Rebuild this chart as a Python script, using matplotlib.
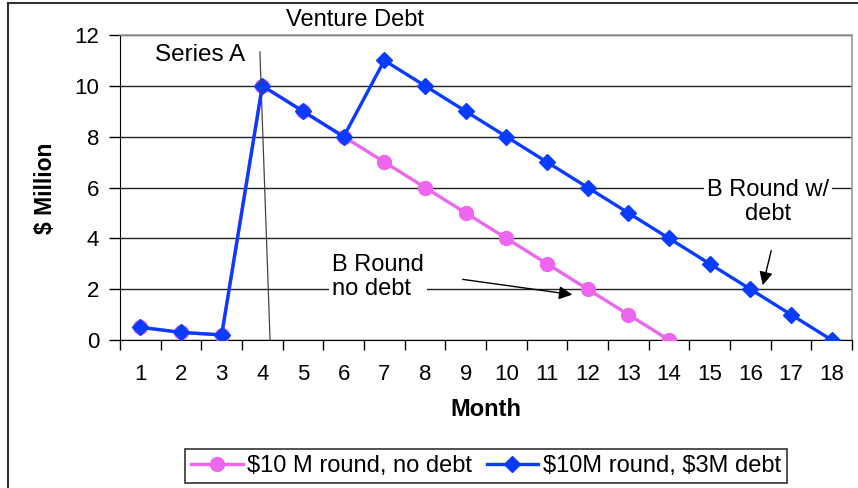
import matplotlib.pyplot as plt
from matplotlib.lines import Line2D

plt.rcParams['font.family'] = ['Liberation Sans', 'DejaVu Sans']

# ---- data ----
months = list(range(1, 19))
no_debt = [0.5, 0.3, 0.2, 10, 9, 8, 7, 6, 5, 4, 3, 2, 1, 0]
with_debt = [0.5, 0.3, 0.2, 10, 9, 8, 11, 10, 9, 8, 7, 6, 5, 4, 3, 2, 1, 0]
yticks = [0, 2, 4, 6, 8, 10, 12]

PINK = "#ee66ee"
BLUE = "#0a3cff"
TXT = 17

fig = plt.figure(figsize=(8.58, 4.88), dpi=100)
ax = fig.add_axes([120 / 858, 1 - 340 / 488, (852 - 120) / 858, (340 - 35) / 488])

ax.plot(months[:len(no_debt)], no_debt, color=PINK, lw=2.4, marker="o", ms=10,
        label=r"\$10 M round, no debt", zorder=3)
ax.plot(months, with_debt, color=BLUE, lw=2.4, marker="D", ms=8,
        label=r"\$10M round, \$3M debt", zorder=4)

ax.set_xlim(0.5, 18.5)
ax.set_ylim(0, 12)
ax.set_yticks(yticks)
ax.set_xticks(months)
ax.set_xticks([m - 0.5 for m in months] + [18.5], minor=True)
ax.tick_params(axis="x", which="major", length=0, pad=17, labelsize=16)
ax.tick_params(axis="x", which="minor", length=7, width=1, direction="out")
ax.tick_params(axis="y", length=8, width=1, pad=7, labelsize=16)

ax.grid(axis="y", color="#222222", lw=1)
ax.set_axisbelow(True)
for s in ["left", "bottom"]:
    ax.spines[s].set_color("black")
for s in ["top", "right"]:
    ax.spines[s].set_color("#999999")
    ax.spines[s].set_linewidth(1.2)

# annotations
ax.text(2.47, 11.2, "Series A", fontsize=TXT + 0.5, ha="center", va="center")
ax.plot([3.94, 4.19], [11.33, 0], color="#444444", lw=0.9, zorder=5, clip_on=False)
ax.text(6.28, 12.6, "Venture Debt", fontsize=TXT, ha="center", va="center", clip_on=False)

ax.text(5.71, 2.48, "B Round\nno debt", fontsize=TXT, ha="left", va="center",
        linespacing=1.12, bbox=dict(facecolor="white", edgecolor="none", pad=2), zorder=6)
ax.annotate("", xy=(11.69, 1.77), xytext=(8.86, 2.40),
            arrowprops=dict(arrowstyle="-|>", color="black", lw=1, mutation_scale=20), zorder=6)

ax.text(16.43, 5.43, "B Round w/\ndebt", fontsize=TXT, ha="center", va="center",
        linespacing=1.15, bbox=dict(facecolor="white", edgecolor="none", pad=2), zorder=6)
ax.annotate("", xy=(16.29, 2.05), xytext=(16.53, 3.62),
            arrowprops=dict(arrowstyle="-|>", color="black", lw=1, mutation_scale=20), zorder=6)

fig.text(45 / 858, 1 - 188 / 488, "$ Million", rotation=90, fontsize=16.5,
         fontweight="bold", ha="center", va="center")
fig.text(486 / 858, 1 - 410 / 488, "Month", fontsize=17, fontweight="bold",
         ha="center", va="center")

leg = fig.legend(loc="center", bbox_to_anchor=(486 / 858, 1 - 466 / 488), ncol=2,
                 fontsize=17, frameon=True, fancybox=False, edgecolor="black",
                 handlelength=2.2, handletextpad=0.2, columnspacing=0.6,
                 borderpad=0.25)
leg.get_frame().set_linewidth(1.2)

# outer chart border
fig.add_artist(Line2D([8 / 858, 8 / 858], [0, 1 - 3 / 488], transform=fig.transFigure,
                      color="#333333", lw=1.5))
fig.add_artist(Line2D([8 / 858, 1], [1 - 3 / 488, 1 - 3 / 488], transform=fig.transFigure,
                      color="#333333", lw=1.5))

fig.savefig("out.png", dpi=100)
